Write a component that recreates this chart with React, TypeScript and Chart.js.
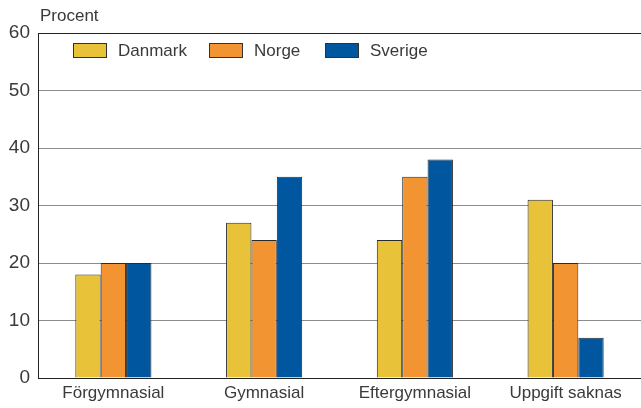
import React, { useEffect, useRef } from "react";
import { Chart, registerables } from "chart.js";

Chart.register(...registerables);

const categories = ["Förgymnasial", "Gymnasial", "Eftergymnasial", "Uppgift saknas"];
const danmark = [18, 27, 24, 31];
const norge = [20, 24, 35, 20];
const sverige = [20, 35, 38, 7];
const seriesNames = ["Danmark", "Norge", "Sverige"];
const seriesColors = ["#E8C33A", "#F39433", "#0057A0"];
const yTitle = "Procent";

const FONT = "'Liberation Sans', Arial, sans-serif";
const TEXT = "#3a3a3a";

const overlayPlugin = {
  id: "overlay",
  afterDraw(chart: any) {
    const ctx = chart.ctx;
    const area = chart.chartArea;
    ctx.save();
    ctx.fillStyle = TEXT;
    ctx.font = `17px ${FONT}`;
    ctx.textBaseline = "middle";
    ctx.textAlign = "left";
    ctx.fillText(yTitle, area.left + 2, 16);
    // legend
    const boxXs = [area.left + 35, area.left + 171, area.left + 287];
    ctx.font = `17px ${FONT}`;
    seriesNames.forEach((name, i) => {
      const x = boxXs[i];
      ctx.fillStyle = seriesColors[i];
      ctx.fillRect(x, 43, 34, 15);
      ctx.strokeStyle = "#333";
      ctx.lineWidth = 1;
      ctx.strokeRect(x + 0.5, 43.5, 33, 14);
      ctx.fillStyle = TEXT;
      ctx.fillText(name, x + 45, 51);
    });
    ctx.restore();
  },
};

export default function App() {
  const ref = useRef<HTMLCanvasElement>(null);
  useEffect(() => {
    const chart = new Chart(ref.current!, {
      type: "bar",
      data: {
        labels: categories,
        datasets: [danmark, norge, sverige].map((d, i) => ({
          label: seriesNames[i],
          data: d,
          backgroundColor: seriesColors[i],
          borderColor: "#2a2a2a",
          borderWidth: 1,
          borderSkipped: "bottom",
          barPercentage: 1,
          categoryPercentage: 0.505,
        })),
      },
      options: {
        animation: false,
        responsive: false,
        layout: { padding: { top: 33, right: 0, left: 0, bottom: 0 } },
        plugins: { legend: { display: false }, tooltip: { enabled: false } },
        scales: {
          x: {
            grid: { display: false, drawTicks: false },
            border: { display: true, color: "#222", width: 1 },
            ticks: { color: TEXT, font: { family: FONT, size: 17 }, padding: 5, maxRotation: 0 },
            afterFit: (s: any) => { s.height = 30; },
          },
          y: {
            min: 0,
            max: 60,
            ticks: { stepSize: 10, color: TEXT, font: { family: FONT, size: 19 }, padding: 8 },
            grid: {
              drawTicks: false,
              color: (c: any) => (c.tick && (c.tick.value === 60) ? "#222" : "#8c8c8c"),
              lineWidth: 1,
            },
            border: { display: true, color: "#222", width: 1 },
            afterFit: (s: any) => { s.width = 38; },
          },
        },
      },
      plugins: [overlayPlugin],
    });
    return () => chart.destroy();
  }, []);
  return (
    <div style={{ position: "fixed", left: 0, top: 0, width: 641, height: 408, background: "#fff" }}>
      <canvas ref={ref} width={641} height={408} style={{ display: "block", width: 641, height: 408 }} />
    </div>
  );
}
